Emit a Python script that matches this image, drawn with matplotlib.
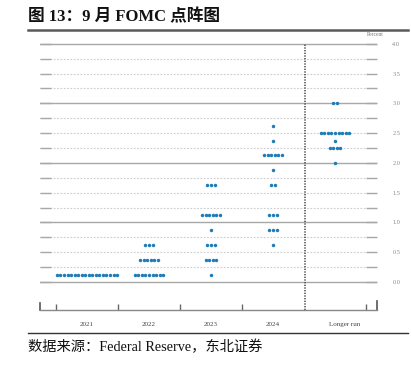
import matplotlib
matplotlib.use("Agg")
import matplotlib.pyplot as plt
from matplotlib.lines import Line2D
import numpy as np

# ---- data ----
categories = ["2021", "2022", "2023", "2024", "Longer run"]
cat_pos = [0, 1, 2, 3, 4]
# (rate level, number of participants) for each column
dots_2021 = [(0.125, 18)]
dots_2022 = [(0.125, 9), (0.375, 6), (0.625, 3)]
dots_2023 = [(0.125, 1), (0.375, 4), (0.625, 3), (0.875, 1), (1.125, 6), (1.625, 3)]
dots_2024 = [(0.625, 1), (0.875, 3), (1.125, 3), (1.625, 2), (1.875, 1),
             (2.125, 6), (2.375, 1), (2.625, 1)]
dots_longer = [(2.0, 1), (2.25, 4), (2.375, 1), (2.5, 9), (3.0, 2)]
all_dots = [dots_2021, dots_2022, dots_2023, dots_2024, dots_longer]
ytick_labels = ["0.0", "0.5", "1.0", "1.5", "2.0", "2.5", "3.0", "3.5", "4.0"]

W, H = 411, 372
fig = plt.figure(figsize=(W / 100, H / 100), dpi=100)

serif_cjk = ["Liberation Serif", "Noto Sans CJK SC"]

# title
fig.text(28 / W, 1 - 17 / H, "图 13：9 月 FOMC 点阵图", family=serif_cjk,
         fontsize=12, fontweight="bold", va="center", ha="left", color="#111111")
fig.add_artist(Line2D([28 / W, 408 / W], [1 - 30 / H, 1 - 30 / H],
                      color="#5a5a5a", lw=1.8, transform=fig.transFigure))
fig.add_artist(Line2D([28 / W, 408 / W], [1 - 333 / H, 1 - 333 / H],
                      color="#333333", lw=1.0, transform=fig.transFigure))
fig.text(28 / W, 1 - 347 / H, "数据来源：Federal Reserve，东北证券", family=serif_cjk,
         fontsize=10.3, va="center", ha="left", color="#111111")

# axes in pixel positions
left, right, top, bottom = 40, 377, 36, 310
ax = fig.add_axes([left / W, 1 - bottom / H, (right - left) / W, (bottom - top) / H])
ax.set_xlim(-0.758, 4.677)
ax.set_ylim(-0.47, 4.13)

# gridlines
for v in np.arange(0, 4.01, 0.25):
    if abs(v - round(v)) < 1e-9:
        ax.axhline(v, color="#a8a8a8", lw=1.0, zorder=1)
    else:
        ax.axhline(v, color="#cccccc", lw=0.8, ls=(0, (1.5, 1.5)), zorder=1)

# y ticks on both sides
ax.set_yticks(np.arange(0, 4.01, 0.5))
ax.set_yticklabels(ytick_labels)
ax.set_yticks(np.arange(0.25, 4.0, 0.5), minor=True)
ax.tick_params(axis="y", which="both", direction="in", length=8, width=1.0,
               color="#a8a8a8", left=True, right=True, labelleft=False,
               labelright=True, pad=11)
ax.tick_params(axis="y", which="major", labelsize=4.5, labelcolor="#888888")
for t in ax.get_yticklabels():
    t.set_family("Liberation Serif")

# x axis
ax.set_xticks([-0.5, 0.5, 1.5, 2.5, 4.5])
ax.set_xticklabels([])
ax.tick_params(axis="x", direction="in", length=4, width=1.0, color="#666666")
for s in ["left", "right", "top"]:
    ax.spines[s].set_visible(False)
ax.spines["bottom"].set_color("#888888")
ax.spines["bottom"].set_linewidth(1.0)
# end caps of bottom axis
ax.plot([-0.758, -0.758], [-0.47, -0.35], color="#555555", lw=1.2, clip_on=False)
ax.plot([4.677, 4.677], [-0.47, -0.32], color="#555555", lw=1.2, clip_on=False)

# separator
ax.plot([3.52, 3.52], [-0.47, 4.0], color="#555555", lw=1.2, ls=(0, (0.8, 0.8)), zorder=2)

# dots
spacing = 0.057
for xc, col in zip(cat_pos, all_dots):
    for level, n in col:
        xs = xc + (np.arange(n) - (n - 1) / 2) * spacing
        ax.plot(xs, [level] * n, "o", color="#1f7bb6", ms=2.5, mec="none", zorder=3)

# category labels
label_x = [0, 1, 2, 3, 4.16]
for lx, lab in zip(label_x, categories):
    ax.text(lx, -0.72, lab, ha="center", va="center", fontsize=5,
            family="Liberation Serif", color="#444444", clip_on=False)

# Percent
ax.text((375 - 87) / 62, 4.13 + 1 / 59.5, "Percent", ha="center", va="center",
        fontsize=4, family="Liberation Serif", color="#777777", clip_on=False)

fig.savefig("out.png", dpi=100)
